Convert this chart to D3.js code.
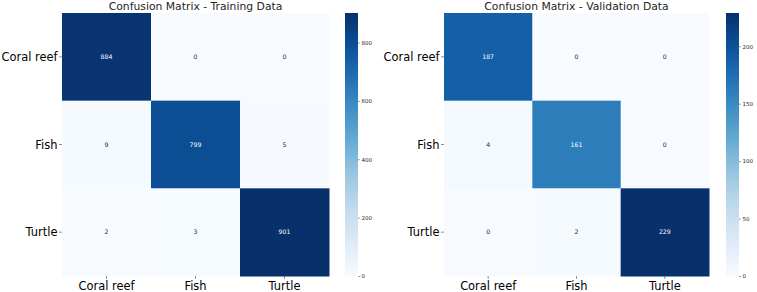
<!DOCTYPE html>
<html>
<head>
<meta charset="utf-8">
<script src="https://cdn.jsdelivr.net/npm/d3@7"></script>
<style>
  body { margin: 0; background: #fff; }
  svg { display: block; font-family: "DejaVu Sans", sans-serif; }
</style>
</head>
<body>
<script>
// class labels, same order for rows (true) and columns (predicted)
const classes = ["Coral reef", "Fish", "Turtle"];

const trainMatrix = [
  [884, 0, 0],
  [9, 799, 5],
  [2, 3, 901]
];
const valMatrix = [
  [187, 0, 0],
  [4, 161, 0],
  [0, 2, 229]
];

const trainTicks = [0, 200, 400, 600, 800];
const valTicks = [0, 50, 100, 150, 200];

const titles = ["Confusion Matrix - Training Data", "Confusion Matrix - Validation Data"];

const width = 757, height = 292;

// layout of the two panels
const panels = [
  { title: titles[0], matrix: trainMatrix, ticks: trainTicks, x0: 62, x1: 329, cbX: 345 },
  { title: titles[1], matrix: valMatrix, ticks: valTicks, x0: 444, x1: 709, cbX: 726 }
];
const plotTop = 13, plotBottom = 276, cbW = 13;

const svg = d3.select("body").append("svg")
  .attr("width", width)
  .attr("height", height);

const defs = svg.append("defs");

// seaborn picks annotation colour from the cell luminance
function textColor(c) {
  const rgb = d3.rgb(c);
  const lin = v => { v /= 255; return v <= 0.03928 ? v / 12.92 : Math.pow((v + 0.055) / 1.055, 2.4); };
  const lum = 0.2126 * lin(rgb.r) + 0.7152 * lin(rgb.g) + 0.0722 * lin(rgb.b);
  return lum > 0.408 ? "#262626" : "#ffffff";
}

panels.forEach((p, pi) => {
  const flat = p.matrix.flat();
  const vmax = d3.max(flat), vmin = d3.min(flat);
  const color = d3.scaleSequential(d3.interpolateBlues).domain([vmin, vmax]);

  const x = d3.scaleBand().domain(classes).range([p.x0, p.x1]);
  const y = d3.scaleBand().domain(classes).range([plotTop, plotBottom]);

  const g = svg.append("g");

  // title
  g.append("text")
    .attr("x", (p.x0 + p.x1) / 2)
    .attr("y", 10)
    .attr("text-anchor", "middle")
    .style("font-size", "10.8px")
    .style("fill", "#262626")
    .text(p.title);

  // cells
  const cells = [];
  p.matrix.forEach((row, i) => row.forEach((v, j) => cells.push({ r: classes[i], c: classes[j], v: v })));

  g.selectAll("rect.cell").data(cells).enter().append("rect")
    .attr("class", "cell")
    .attr("x", d => x(d.c))
    .attr("y", d => y(d.r))
    .attr("width", x.bandwidth() + 0.5)
    .attr("height", y.bandwidth() + 0.5)
    .attr("fill", d => color(d.v));

  g.selectAll("text.annot").data(cells).enter().append("text")
    .attr("class", "annot")
    .attr("x", d => x(d.c) + x.bandwidth() / 2)
    .attr("y", d => y(d.r) + y.bandwidth() / 2)
    .attr("text-anchor", "middle")
    .attr("dy", "0.35em")
    .style("font-size", "6.2px")
    .style("fill", d => textColor(color(d.v)))
    .text(d => d.v);

  // axes
  const yAxis = g.append("g")
    .attr("transform", `translate(${p.x0},0)`)
    .call(d3.axisLeft(y).tickSize(3).tickPadding(1.5));
  const xAxis = g.append("g")
    .attr("transform", `translate(0,${plotBottom})`)
    .call(d3.axisBottom(x).tickSize(3).tickPadding(1.5));
  [xAxis, yAxis].forEach(a => {
    a.select(".domain").remove();
    a.selectAll(".tick line").attr("stroke", "#444").attr("stroke-width", 0.6);
    a.selectAll(".tick text")
      .style("font-size", "13px")
      .style("font-family", "DejaVu Sans, sans-serif")
      .style("fill", "#000")
      .each(function() {
        // labels in the picture are a bit narrower than their height suggests
        const w = this.getComputedTextLength();
        d3.select(this).attr("textLength", w * 0.88).attr("lengthAdjust", "spacingAndGlyphs");
      });
  });

  // colorbar
  const gid = "cbgrad" + pi;
  const grad = defs.append("linearGradient")
    .attr("id", gid)
    .attr("x1", 0).attr("y1", 1).attr("x2", 0).attr("y2", 0);
  d3.range(0, 1.0001, 0.05).forEach(t => {
    grad.append("stop")
      .attr("offset", t)
      .attr("stop-color", d3.interpolateBlues(t));
  });

  g.append("rect")
    .attr("x", p.cbX)
    .attr("y", plotTop)
    .attr("width", cbW)
    .attr("height", plotBottom - plotTop)
    .attr("fill", `url(#${gid})`);

  const cy = d3.scaleLinear().domain([vmin, vmax]).range([plotBottom, plotTop]);
  const cbAxis = g.append("g")
    .attr("transform", `translate(${p.cbX + cbW},0)`)
    .call(d3.axisRight(cy).tickValues(p.ticks).tickSize(2).tickPadding(1.5));
  cbAxis.select(".domain").remove();
  cbAxis.selectAll(".tick line").attr("stroke", "#444").attr("stroke-width", 0.5);
  cbAxis.selectAll(".tick text")
    .style("font-size", "5.5px")
    .style("font-family", "DejaVu Sans, sans-serif")
    .style("fill", "#262626");
});
</script>
</body>
</html>
